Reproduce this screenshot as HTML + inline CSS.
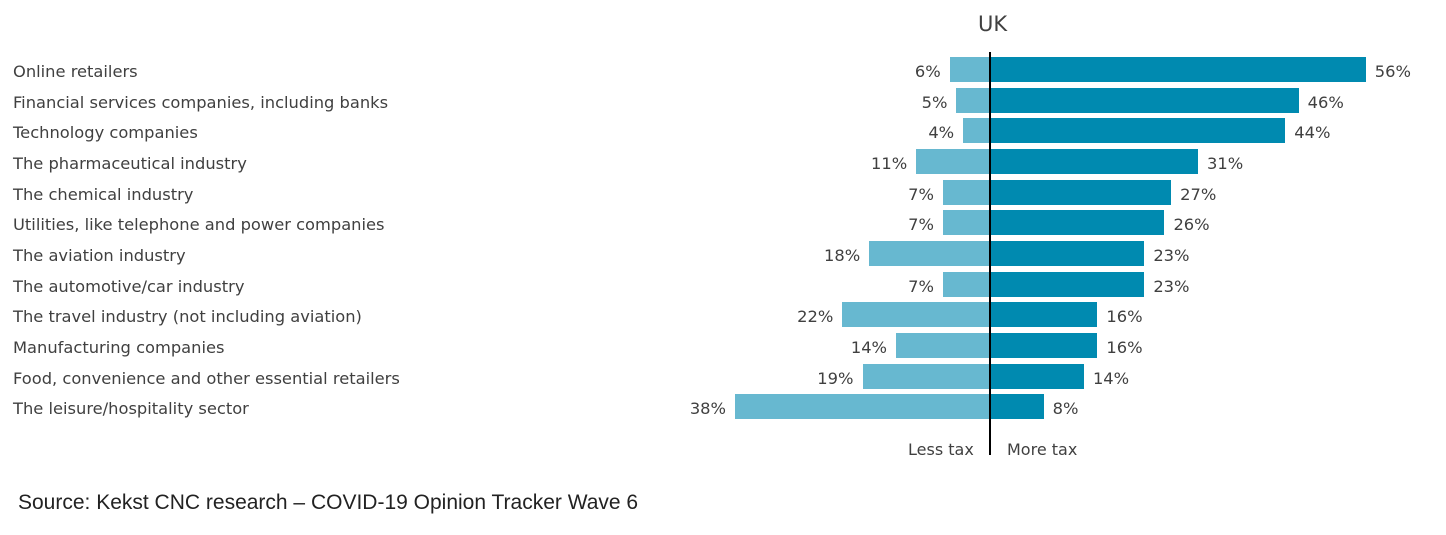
<!DOCTYPE html>
<html><head><style>
body{margin:0;background:#fff;width:1446px;height:535px;overflow:hidden;position:relative;font-family:"DejaVu Sans","Liberation Sans",sans-serif;color:#404040}
.l{position:absolute;left:13px;font-size:16.3px;line-height:20px;white-space:nowrap}
.b{position:absolute;height:25px}
.n{position:absolute;font-size:16.3px;line-height:20px}
.r{text-align:right;width:60px}
</style></head><body>
<div style="position:absolute;left:978px;top:12px;font-size:21px">UK</div>
<div id="c"></div>
<div style="position:absolute;left:989px;top:52px;width:1.5px;height:403px;background:#000"></div>
<div style="position:absolute;left:908px;top:440px;font-size:16px">Less tax</div>
<div style="position:absolute;left:1007px;top:440px;font-size:16px">More tax</div>
<div style="position:absolute;left:18px;top:491px;font-size:21px;color:#222;font-family:'Liberation Sans',sans-serif">Source: Kekst CNC research – COVID-19 Opinion Tracker Wave 6</div>
<script>
var d=[["Online retailers",6,56],["Financial services companies, including banks",5,46],["Technology companies",4,44],["The pharmaceutical industry",11,31],["The chemical industry",7,27],["Utilities, like telephone and power companies",7,26],["The aviation industry",18,23],["The automotive/car industry",7,23],["The travel industry (not including aviation)",22,16],["Manufacturing companies",14,16],["Food, convenience and other essential retailers",19,14],["The leisure/hospitality sector",38,8]];
var h="",ax=990,s=6.71;
d.forEach(function(r,i){var t=57+i*30.65;var L=r[1]*s,R=r[2]*s;
h+='<div class="l" style="top:'+(t+5)+'px">'+r[0]+'</div>';
h+='<div class="b" style="left:'+(ax-L)+'px;width:'+L+'px;top:'+t+'px;background:#67b8d0"></div>';
h+='<div class="b" style="left:'+ax+'px;width:'+R+'px;top:'+t+'px;background:#008ab0"></div>';
h+='<div class="n r" style="left:'+(ax-L-69)+'px;top:'+(t+5)+'px">'+r[1]+'%</div>';
h+='<div class="n" style="left:'+(ax+R+9)+'px;top:'+(t+5)+'px">'+r[2]+'%</div>';});
document.getElementById("c").innerHTML=h;
</script>
</body></html>
